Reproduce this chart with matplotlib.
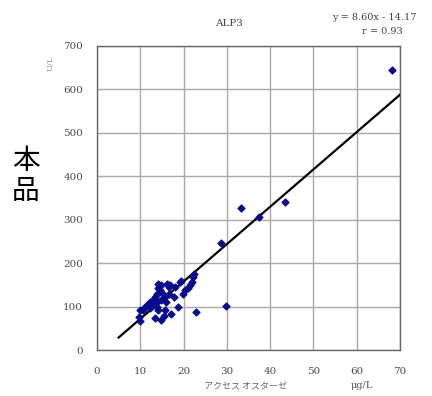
import matplotlib
matplotlib.use("Agg")
import matplotlib.pyplot as plt
import numpy as np

# Data (x: アクセス オスターゼ μg/L, y: 本品 U/L)
x_vals = [68.1, 43.5, 37.4, 33.3, 28.6, 29.8, 22.8, 22.5, 22.1, 21.9, 21.5, 21.1,
          20.3, 19.2, 19.5, 19.9, 18.8, 17.8, 16.9, 16.2, 16.7, 17.2, 15.5, 14.9,
          13.4, 14.2, 14.5, 14.2, 13.8, 13.4, 13.0, 12.2, 11.9, 11.5, 11.1, 10.7,
          9.9, 9.8, 9.9, 13.8, 14.9, 15.6, 15.3, 16.0, 13.8, 12.6, 14.9, 14.2,
          16.7, 18.1, 15.7, 12.2]
y_vals = [645, 340, 307, 326, 247, 101, 87, 176, 169, 157, 150, 142,
          138, 157, 160, 130, 98, 123, 150, 153, 145, 84, 78, 69,
          73, 92, 138, 142, 130, 123, 115, 111, 107, 104, 100, 92,
          92, 75, 67, 111, 115, 123, 130, 111, 100, 104, 150, 153,
          130, 145, 92, 96]
slope = 8.60
intercept = -14.17
line_x = [5, 70]

plt.rcParams["font.family"] = ["DejaVu Serif"]

fig = plt.figure(figsize=(4.32, 3.96), dpi=100)
ax = fig.add_axes([0.2245, 0.116, 0.7015, 0.768])

# Regression line and points
lx = np.array(line_x)
ax.plot(lx, slope * lx + intercept, color="black", linewidth=1.6, zorder=3)
ax.scatter(x_vals, y_vals, marker="D", s=12, color="#0a0a8c", zorder=4)

ax.set_xlim(0, 70)
ax.set_ylim(0, 700)
ax.set_xticks(range(0, 71, 10))
ax.set_yticks(range(0, 701, 100))
ax.grid(True, color="#a8a8a8", linewidth=1.0)
ax.set_axisbelow(True)
ax.tick_params(length=0, labelsize=7.5, labelcolor="#4a4a4a")
ax.tick_params(axis="x", pad=12)
ax.tick_params(axis="y", pad=10)
for s in ax.spines.values():
    s.set_color("#666666")
    s.set_linewidth(1.0)

# Texts
fig.text(229 / 432, 1 - 24 / 396, "ALP3", ha="center", va="center",
         fontsize=7.5, color="#444444")
fig.text(374 / 432, 1 - 17 / 396, "y = 8.60x - 14.17", ha="center", va="center",
         fontsize=7, color="#444444")
fig.text(382 / 432, 1 - 31 / 396, "r = 0.93", ha="center", va="center",
         fontsize=7, color="#444444")
fig.text(51 / 432, 1 - 63 / 396, "U/L", ha="center", va="center",
         rotation=90, fontsize=6, color="#999999")
fig.text(26 / 432, 1 - 176 / 396, "本\n品", ha="center", va="center",
         fontsize=20, linespacing=1.0, family=["Noto Sans CJK JP", "DejaVu Sans"])
fig.text(245 / 432, 1 - 387 / 396, "アクセス オスターゼ", ha="center", va="center",
         fontsize=6.5, color="#666666", family=["Noto Sans CJK JP", "DejaVu Sans"])
fig.text(362 / 432, 1 - 386 / 396, "μg/L", ha="center", va="center",
         fontsize=7, color="#555555")

fig.savefig("out.png", dpi=100)
